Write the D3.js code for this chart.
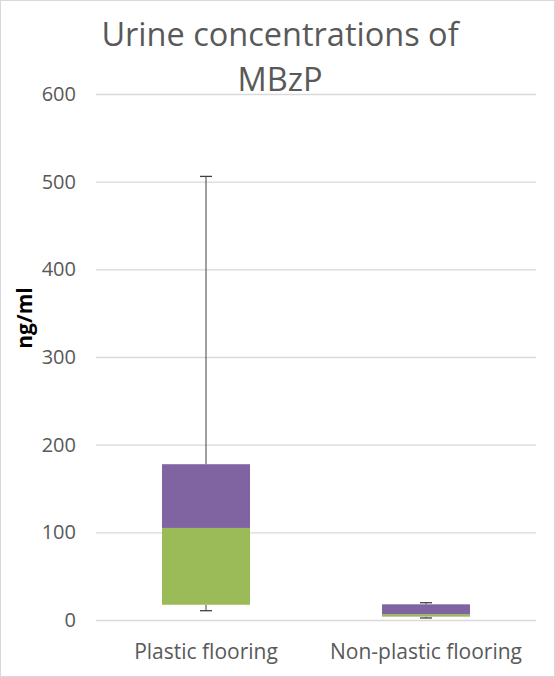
<!DOCTYPE html>
<html>
<head>
<meta charset="utf-8">
<script src="https://cdn.jsdelivr.net/npm/d3@7"></script>
<style>
	body { margin: 0; background: #fff; }
	text { font-family: "Open Sans", sans-serif; }
</style>
</head>
<body>
<div id="graphic"></div>
<script>
// Data
const categories = ['Plastic flooring', 'Non-plastic flooring'];
const minValues = [10.6, 2.3];
const q1Values = [17.4, 3.8];
const medianValues = [105, 6.5];
const q3Values = [177.7, 17.9];
const maxValues = [506, 19.7];
const yTicks = [0, 100, 200, 300, 400, 500, 600];

const titleLines = ['Urine concentrations of', 'MBzP'];
const yAxisLabel = 'ng/ml';

const width = 555, height = 677;
const margin = { top: 94, right: 19, bottom: 57, left: 96 };
const chartWidth = width - margin.left - margin.right;

const textColour = '#595959';
const colours = { lower: '#9BBB59', upper: '#8064A2' };

const rows = categories.map((c, i) => ({
	category: c,
	min: minValues[i],
	q1: q1Values[i],
	median: medianValues[i],
	q3: q3Values[i],
	max: maxValues[i]
}));

const svg = d3.select('#graphic')
	.append('svg')
	.attr('width', width)
	.attr('height', height);

// outer chart border
svg.append('rect')
	.attr('x', 0.5)
	.attr('y', 0.5)
	.attr('width', width - 1)
	.attr('height', height - 1)
	.attr('fill', '#fff')
	.attr('stroke', '#d9d9d9');

const g = svg.append('g')
	.attr('transform', `translate(${margin.left},${margin.top})`);

const x = d3.scaleBand()
	.domain(categories)
	.range([0, chartWidth])
	.paddingInner(0.6)
	.paddingOuter(0.3);

const y = d3.scaleLinear()
	.domain([0, 600])
	.range([526, 0]);

// gridlines
g.append('g')
	.attr('class', 'grid')
	.call(d3.axisLeft(y).tickValues(yTicks).tickSize(-chartWidth).tickFormat(''))
	.call(s => s.select('.domain').remove())
	.selectAll('line')
	.attr('stroke', '#d9d9d9')
	.attr('stroke-width', 1.3);

// y axis labels
g.append('g')
	.attr('class', 'y axis')
	.call(d3.axisLeft(y).tickValues(yTicks).tickSize(0).tickPadding(20))
	.call(s => s.select('.domain').remove())
	.selectAll('text')
	.attr('fill', textColour)
	.style('font-size', '20px');

// x axis labels
g.append('g')
	.attr('class', 'x axis')
	.attr('transform', `translate(0,${y(0)})`)
	.call(d3.axisBottom(x).tickSize(0).tickPadding(0))
	.call(s => s.select('.domain').remove())
	.selectAll('text')
	.attr('dy', 39)
	.attr('fill', textColour)
	.style('font-size', '21px');

// whiskers (drawn under boxes)
const whisker = g.append('g').attr('class', 'whiskers');
rows.forEach(d => {
	const cx = x(d.category) + x.bandwidth() / 2;
	[[d.q3, d.max], [d.q1, d.min]].forEach(([from, to]) => {
		whisker.append('line')
			.attr('x1', cx).attr('x2', cx)
			.attr('y1', y(from)).attr('y2', y(to))
			.attr('stroke', '#404040')
			.attr('stroke-width', 1);
		whisker.append('line')
			.attr('x1', cx - 6).attr('x2', cx + 6)
			.attr('y1', y(to)).attr('y2', y(to))
			.attr('stroke', '#404040')
			.attr('stroke-width', 1.3);
	});
});

// boxes: lower part (q1 to median) and upper part (median to q3)
g.selectAll('rect.lower')
	.data(rows)
	.join('rect')
	.attr('class', 'lower')
	.attr('x', d => x(d.category))
	.attr('width', x.bandwidth())
	.attr('y', d => y(d.median))
	.attr('height', d => y(d.q1) - y(d.median))
	.attr('fill', colours.lower);

g.selectAll('rect.upper')
	.data(rows)
	.join('rect')
	.attr('class', 'upper')
	.attr('x', d => x(d.category))
	.attr('width', x.bandwidth())
	.attr('y', d => y(d.q3))
	.attr('height', d => y(d.median) - y(d.q3))
	.attr('fill', colours.upper);

// title
svg.append('text')
	.attr('text-anchor', 'middle')
	.attr('fill', textColour)
	.style('font-size', '32.5px')
	.selectAll('tspan')
	.data(titleLines)
	.join('tspan')
	.attr('x', 280)
	.attr('y', (d, i) => 46 + i * 45)
	.text(d => d);

// y axis title
svg.append('text')
	.attr('transform', 'translate(32,318) rotate(-90)')
	.attr('text-anchor', 'middle')
	.attr('fill', '#000')
	.style('font-size', '21px')
	.style('font-weight', 'bold')
	.text(yAxisLabel);
</script>
</body>
</html>
